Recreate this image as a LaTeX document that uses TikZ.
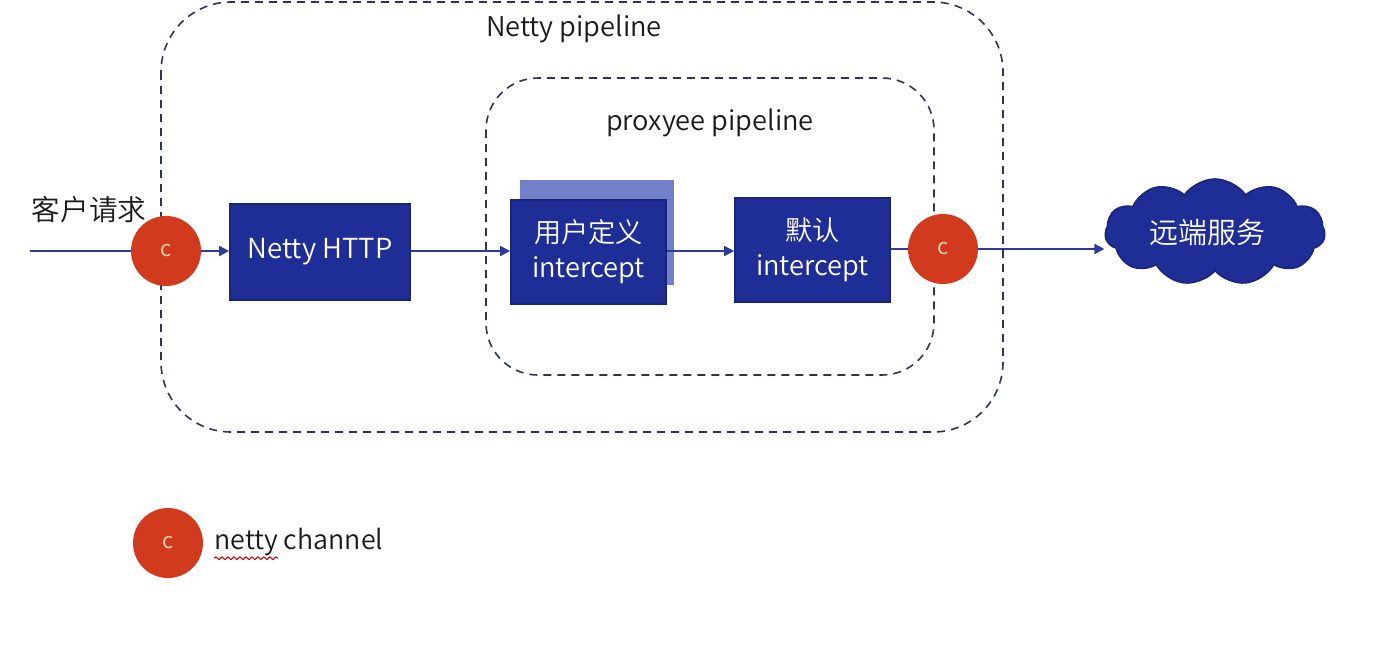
\documentclass[tikz,border=0pt]{standalone}
\usepackage{fontspec}
\setmainfont{Noto Sans CJK SC}[UprightFont=* DemiLight]
\usetikzlibrary{arrows.meta,shapes.symbols,decorations.pathmorphing}
\definecolor{boxblue}{HTML}{1F2E96}
\definecolor{boxedge}{HTML}{1A2478}
\definecolor{shadowblue}{HTML}{7180C8}
\definecolor{arrowblue}{HTML}{2B3C9E}
\definecolor{chanred}{HTML}{D23A1E}
\definecolor{dashcol}{HTML}{2E3452}
\definecolor{ctext}{HTML}{F5D9B8}
\definecolor{txt}{HTML}{1A1A1A}
\tikzset{
  pipe/.style={draw=dashcol, dashed, dash pattern=on 4pt off 3pt, line width=0.8pt},
  procbox/.style={draw=boxedge, line width=0.8pt, fill=boxblue, text=white, minimum width=90pt, minimum height=48pt, align=center, font=\fontsize{13.8}{16}\selectfont, inner sep=0pt},
  chan/.style={circle, fill=chanred, minimum size=35pt, inner sep=0pt, text=ctext, font=\fontsize{11}{12}\selectfont},
  flow/.style={draw=arrowblue, line width=0.8pt, -{Triangle[length=5pt,width=5pt]}},
  plain/.style={draw=arrowblue, line width=0.8pt},
  lbl/.style={text=txt, font=\fontsize{13.6}{16}\selectfont, inner sep=0pt}
}
\begin{document}
\begin{tikzpicture}[x=0.5pt,y=-0.5pt]
\useasboundingbox (0,0) rectangle (1400,645);
% containers
\draw[pipe, rounded corners=35pt] (161,2) rectangle (1003,432);
\draw[pipe, rounded corners=26pt] (486,78) rectangle (934,375);
\node[lbl] (nettytitle) at (574,29) {Netty pipeline};
\node[lbl] (proxtitle) at (710,123) {proxyee pipeline};
% input
\node[lbl, font=\fontsize{14.3}{16}\selectfont] (client) at (89,210) {客户请求};
\coordinate (start) at (30,251);
\node[chan] (c1) at (166,251) {c};
\node[procbox] (http) at (320,252) {Netty HTTP};
\fill[shadowblue] (520,180) rectangle (674,285);
\node[procbox, minimum width=77.5pt, minimum height=52pt, font=\fontsize{13.6}{17.5}\selectfont] (user) at (588.5,252) {用户定义\\intercept};
\node[procbox, minimum width=77.5pt, minimum height=52pt, font=\fontsize{13.6}{17.5}\selectfont] (def) at (812.5,250) {默认\\intercept};
\node[chan] (c2) at (943,249) {c};
\node[cloud, cloud puffs=11, cloud puff arc=110, aspect=2.1, draw=boxedge, line width=0.8pt, fill=boxblue, text=white, minimum width=110pt, minimum height=53pt, font=\fontsize{14.5}{16}\selectfont, inner sep=0pt] (remote) at (1215,232) {\hspace*{-8pt}远端服务};
% connectors
\draw[plain] (start) -- (c1.west);
\draw[flow] (c1.east) -- (c1.east -| http.west);
\draw[flow] (http.east |- 0,251) -- (user.west |- 0,251);
\draw[flow] (user.east |- 0,251) -- (def.west |- 0,251);
\draw[plain] (def.east |- c2) -- (c2.west);
\draw[flow] (c2.east) -- (c2.east -| remote.west);
% legend
\node[chan] (lc) at (168,543) {c};
\node[lbl, anchor=west, font=\fontsize{13.4}{16}\selectfont] (legend) at (214,542) {netty channel};
\draw[red!80!black, line width=0.5pt, decorate, decoration={snake, amplitude=0.7pt, segment length=3pt}] (legend.south west) ++(0,-1pt) -- ++(32pt,0);
\end{tikzpicture}
\end{document}
